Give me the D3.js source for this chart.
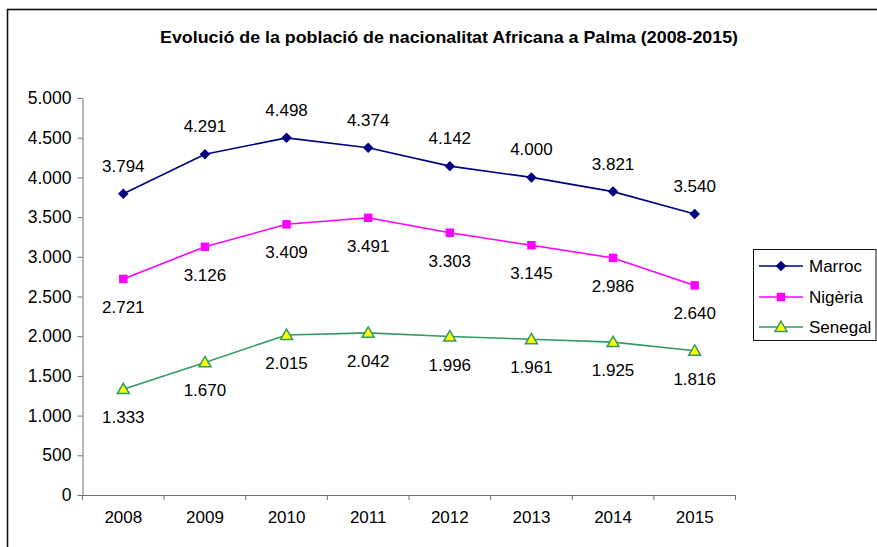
<!DOCTYPE html>
<html lang="ca">
<head>
<meta charset="UTF-8">
<script src="https://d3js.org/d3.v7.min.js"></script>
<title>Evolució població africana</title>
<style>
    body { margin: 0; background: #fff; }
    svg { display: block; font-family: "Liberation Sans", Arial, sans-serif; }
    .axis path, .axis line { stroke: #6e6e6e; }
    .axis text { font-size: 17px; fill: #000; }
</style>
</head>
<body>
<div id="container"></div>
<script>
    // years on the x axis
    const years = ["2008", "2009", "2010", "2011", "2012", "2013", "2014", "2015"]
    // population per nationality
    const marroc  = [3794, 4291, 4498, 4374, 4142, 4000, 3821, 3540]
    const nigeria = [2721, 3126, 3409, 3491, 3303, 3145, 2986, 2640]
    const senegal = [1333, 1670, 2015, 2042, 1996, 1961, 1925, 1816]
    const seriesNames = ["Marroc", "Nigèria", "Senegal"]
    const yTicks = [0, 500, 1000, 1500, 2000, 2500, 3000, 3500, 4000, 4500, 5000]

    const W = 877, H = 547
    const plot = { left: 82.5, right: 735.5, top: 98, bottom: 495 }

    const series = [
        { name: seriesNames[0], values: marroc,  color: "#000080", fill: "#000080", marker: "diamond",  labelPos: "above" },
        { name: seriesNames[1], values: nigeria, color: "#ff00ff", fill: "#ff00ff", marker: "square",   labelPos: "below" },
        { name: seriesNames[2], values: senegal, color: "#339966", fill: "#ffff00", marker: "triangle", labelPos: "below" }
    ]

    // catalan number format: 3.794
    const ca = d3.formatLocale({ decimal: ",", thousands: ".", grouping: [3], currency: ["", "€"] })
    const fmt = ca.format(",")

    const svg = d3.select("#container").append("svg")
        .attr("width", W)
        .attr("height", H)

    // outer chart frame (runs off the right and bottom edges)
    svg.append("rect")
        .attr("x", 7.5).attr("y", 9.5)
        .attr("width", W + 10).attr("height", H + 10)
        .attr("fill", "none")
        .attr("stroke", "#111")
        .attr("stroke-width", 1.6)

    svg.append("text")
        .attr("x", 160).attr("y", 43)
        .attr("textLength", 578)
        .attr("lengthAdjust", "spacingAndGlyphs")
        .style("font-size", "17px")
        .style("font-weight", "bold")
        .text("Evolució de la població de nacionalitat Africana a Palma (2008-2015)")

    const x = d3.scaleBand().domain(years).range([plot.left, plot.right])
    const y = d3.scaleLinear().domain([0, 5000]).range([plot.bottom, plot.top])
    const cx = d => x(d) + x.bandwidth() / 2

    // y axis
    svg.append("g")
        .attr("class", "axis")
        .attr("transform", `translate(${plot.left},0)`)
        .call(d3.axisLeft(y).tickValues(yTicks).tickFormat(fmt).tickSize(5).tickPadding(6).tickSizeOuter(0))
        .selectAll("text").style("font-size", "17.5px")

    // x axis: labels centred, ticks on category boundaries
    const xAxis = svg.append("g")
        .attr("class", "axis")
        .attr("transform", `translate(0,${plot.bottom})`)
        .call(d3.axisBottom(x).tickSize(0).tickPadding(16).tickSizeOuter(0))
    xAxis.selectAll(".tick line").remove()
    xAxis.selectAll("line.bound")
        .data(years.concat(["end"]))
        .enter().append("line")
        .attr("class", "bound")
        .attr("x1", (d, i) => plot.left + i * x.step())
        .attr("x2", (d, i) => plot.left + i * x.step())
        .attr("y1", 0).attr("y2", 5)

    const line = d3.line()
        .x((d, i) => cx(years[i]))
        .y(d => y(d))

    const markerPath = (type) => {
        if (type === "diamond") return d3.symbol().type(d3.symbolDiamond2).size(70)()
        if (type === "square") return d3.symbol().type(d3.symbolSquare).size(72)()
        return d3.symbol().type(d3.symbolTriangle).size(62)()
    }

    series.forEach(s => {
        const g = svg.append("g")
        g.append("path")
            .attr("d", line(s.values))
            .attr("fill", "none")
            .attr("stroke", s.color)
            .attr("stroke-width", 1.6)

        g.selectAll("path.mk")
            .data(s.values)
            .enter().append("path")
            .attr("class", "mk")
            .attr("d", markerPath(s.marker))
            .attr("transform", (d, i) => `translate(${cx(years[i])},${y(d) + (s.marker === "triangle" ? 1 : 0)})`)
            .attr("fill", s.fill)
            .attr("stroke", s.color)
            .attr("stroke-width", s.marker === "triangle" ? 1.5 : 0)

        g.selectAll("text")
            .data(s.values)
            .enter().append("text")
            .attr("x", (d, i) => cx(years[i]))
            .attr("y", d => s.labelPos === "above" ? y(d) - 22 : y(d) + 34)
            .attr("text-anchor", "middle")
            .style("font-size", "17px")
            .text(d => fmt(d))
    })

    // legend
    const legend = svg.append("g")
    legend.append("rect")
        .attr("x", 753.5).attr("y", 249.5)
        .attr("width", 122.5).attr("height", 91)
        .attr("fill", "#fff")
        .attr("stroke", "#111")
        .attr("stroke-width", 1)

    const rowY = [266, 297, 327]
    series.forEach((s, i) => {
        const r = legend.append("g").attr("transform", `translate(0,${rowY[i]})`)
        r.append("line")
            .attr("x1", 759).attr("x2", 803)
            .attr("stroke", s.color).attr("stroke-width", 1.6)
        r.append("path")
            .attr("d", markerPath(s.marker))
            .attr("transform", `translate(781,${s.marker === "triangle" ? 1 : 0})`)
            .attr("fill", s.fill)
            .attr("stroke", s.color)
            .attr("stroke-width", s.marker === "triangle" ? 1.5 : 0)
        r.append("text")
            .attr("x", 809).attr("y", 6)
            .style("font-size", "17px")
            .text(s.name)
    })
</script>
</body>
</html>
